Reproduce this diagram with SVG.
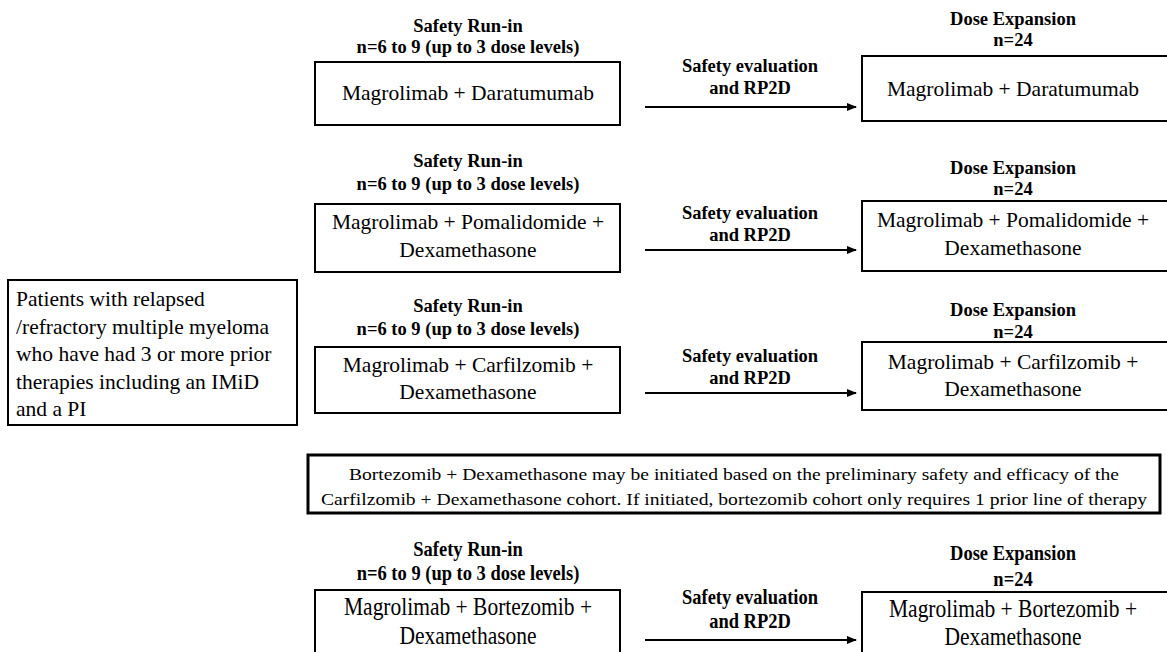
<svg xmlns="http://www.w3.org/2000/svg" width="1167" height="652" viewBox="0 0 1167 652">
<defs>
<style>
.box{fill:#fff;stroke:#000;stroke-width:2}
.note{fill:#fff;stroke:#000;stroke-width:3}
.t{font-family:"Liberation Serif","Times New Roman",serif;font-size:21.5px;fill:#000}
.c{text-anchor:middle}
.h{font-family:"Liberation Serif","Times New Roman",serif;font-size:18.5px;font-weight:bold;fill:#000;text-anchor:middle}
.n{font-family:"Liberation Serif","Times New Roman",serif;font-size:17px;fill:#000;text-anchor:middle}
.arr{stroke:#000;stroke-width:2;fill:none;marker-end:url(#ah)}
</style>
<marker id="ah" viewBox="0 0 10 10" refX="9" refY="5" markerWidth="5" markerHeight="5" orient="auto" markerUnits="strokeWidth">
<path d="M0,1 L10,5 L0,9 z" fill="#000"/>
</marker>
</defs>
<rect width="1167" height="652" fill="#fff"/>

<g id="patients">
<rect class="box" x="8" y="280" width="289" height="145"/>
<text class="t" x="16" y="306">Patients with relapsed</text>
<text class="t" x="16" y="334">/refractory multiple myeloma</text>
<text class="t" x="16" y="361">who have had 3 or more prior</text>
<text class="t" x="16" y="389">therapies including an IMiD</text>
<text class="t" x="16" y="416">and a PI</text>
</g>

<g id="runin-dara">
<text class="h" x="468" y="32">Safety Run-in</text>
<text class="h" x="468" y="53">n=6 to 9 (up to 3 dose levels)</text>
<rect class="box" x="315" y="62" width="305" height="63"/>
<text class="t c" x="468" y="100">Magrolimab + Daratumumab</text>
</g>
<g id="exp-dara">
<text class="h" x="1013" y="25">Dose Expansion</text>
<text class="h" x="1013" y="46">n=24</text>
<rect class="box" x="862" y="56" width="312" height="65"/>
<text class="t c" x="1013" y="96">Magrolimab + Daratumumab</text>
</g>

<g id="runin-poma">
<text class="h" x="468" y="167">Safety Run-in</text>
<text class="h" x="468" y="190">n=6 to 9 (up to 3 dose levels)</text>
<rect class="box" x="315" y="204" width="305" height="68"/>
<text class="t c" x="468" y="229">Magrolimab + Pomalidomide +</text>
<text class="t c" x="468" y="257">Dexamethasone</text>
</g>
<g id="exp-poma">
<text class="h" x="1013" y="174">Dose Expansion</text>
<text class="h" x="1013" y="195">n=24</text>
<rect class="box" x="862" y="201" width="312" height="70"/>
<text class="t c" x="1013" y="227">Magrolimab + Pomalidomide +</text>
<text class="t c" x="1013" y="255">Dexamethasone</text>
</g>

<g id="runin-carf">
<text class="h" x="468" y="312">Safety Run-in</text>
<text class="h" x="468" y="335">n=6 to 9 (up to 3 dose levels)</text>
<rect class="box" x="315" y="347" width="305" height="66"/>
<text class="t c" x="468" y="372">Magrolimab + Carfilzomib +</text>
<text class="t c" x="468" y="399">Dexamethasone</text>
</g>
<g id="exp-carf">
<text class="h" x="1013" y="316">Dose Expansion</text>
<text class="h" x="1013" y="338">n=24</text>
<rect class="box" x="862" y="342" width="312" height="68"/>
<text class="t c" x="1013" y="369">Magrolimab + Carfilzomib +</text>
<text class="t c" x="1013" y="396">Dexamethasone</text>
</g>

<g id="note">
<rect class="note" x="308" y="455" width="852" height="58"/>
<text class="n" x="734" y="480" textLength="770" lengthAdjust="spacingAndGlyphs">Bortezomib + Dexamethasone may be initiated based on the preliminary safety and efficacy of the</text>
<text class="n" x="734" y="505" textLength="826" lengthAdjust="spacingAndGlyphs">Carfilzomib + Dexamethasone cohort. If initiated, bortezomib cohort only requires 1 prior line of therapy</text>
</g>

<g id="runin-bort">
<text class="h" transform="translate(468,556) scale(1,1.15)">Safety Run-in</text>
<text class="h" transform="translate(468,580) scale(1,1.15)">n=6 to 9 (up to 3 dose levels)</text>
<rect class="box" x="315" y="590" width="305" height="70"/>
<text class="t c" transform="translate(468,615) scale(1,1.15)">Magrolimab + Bortezomib +</text>
<text class="t c" transform="translate(468,644) scale(1,1.15)">Dexamethasone</text>
</g>
<g id="exp-bort">
<text class="h" transform="translate(1013,560) scale(1,1.15)">Dose Expansion</text>
<text class="h" transform="translate(1013,586) scale(1,1.15)">n=24</text>
<rect class="box" x="862" y="592" width="312" height="70"/>
<text class="t c" transform="translate(1013,617) scale(1,1.15)">Magrolimab + Bortezomib +</text>
<text class="t c" transform="translate(1013,645) scale(1,1.15)">Dexamethasone</text>
</g>

<g id="connectors">
<line class="arr" x1="645" y1="107" x2="856" y2="107"/>
<line class="arr" x1="645" y1="250" x2="856" y2="250"/>
<line class="arr" x1="645" y1="393" x2="856" y2="393"/>
<line class="arr" x1="645" y1="640" x2="856" y2="640"/>
<text class="h" x="750" y="72">Safety evaluation</text>
<text class="h" x="750" y="94">and RP2D</text>
<text class="h" x="750" y="219">Safety evaluation</text>
<text class="h" x="750" y="241">and RP2D</text>
<text class="h" x="750" y="362">Safety evaluation</text>
<text class="h" x="750" y="384">and RP2D</text>
<text class="h" transform="translate(750,604) scale(1,1.15)">Safety evaluation</text>
<text class="h" transform="translate(750,628) scale(1,1.15)">and RP2D</text>
</g>
</svg>
